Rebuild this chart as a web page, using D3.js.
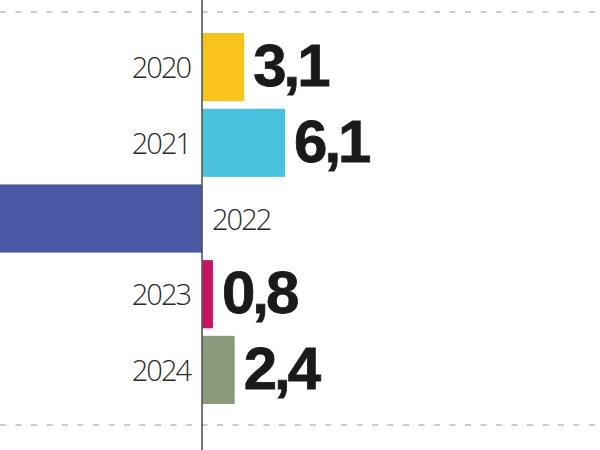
<!DOCTYPE html>
<html><head><meta charset="utf-8">
<script src="https://cdn.jsdelivr.net/npm/d3@7"></script>
<style>html,body{margin:0;padding:0;background:#fff;overflow:hidden}</style>
</head><body>
<svg id="c" width="600" height="450"></svg>
<script>
const years = ["2020","2021","2022","2023","2024"];
const values = [3.1, 6.1, -16.0, 0.8, 2.4];
const valueLabels = ["3,1","6,1","-16,0","0,8","2,4"];
const colors = ["#F8C41B","#48C2DF","#4A57A5","#C8125F","#8A9A7B"];

const W = 600, H = 450;
const svg = d3.select("#c");
const x = d3.scaleLinear().domain([-14.85, 29.25]).range([0, W]);
const y = d3.scaleBand().domain(years).range([33, 404]).paddingInner(0.1).paddingOuter(0);

// dashed separators
[12, 425].forEach(yy => {
  svg.append("line").attr("x1", 0).attr("x2", W).attr("y1", yy).attr("y2", yy)
    .attr("stroke", "#bcbcbc").attr("stroke-width", 1.5).attr("stroke-dasharray", "6,9.5");
});

// bars
svg.selectAll("rect.bar").data(years).join("rect").attr("class","bar")
  .attr("x", (d,i) => x(Math.min(0, values[i])))
  .attr("width", (d,i) => Math.abs(x(values[i]) - x(0)))
  .attr("y", d => y(d)).attr("height", y.bandwidth())
  .attr("fill", (d,i) => colors[i]);

// zero line
svg.append("line").attr("x1", x(0)).attr("x2", x(0)).attr("y1", 0).attr("y2", H)
  .attr("stroke", "#555").attr("stroke-width", 1.6);

// year labels
svg.selectAll("text.yr").data(years).join("text").attr("class","yr")
  .attr("x", (d,i) => values[i] < 0 ? x(0) + 10 : x(0) - 12)
  .attr("y", d => y(d) + y.bandwidth()/2 + 11)
  .attr("text-anchor", (d,i) => values[i] < 0 ? "start" : "end")
  .attr("font-family", "'Open Sans', sans-serif").attr("font-weight", 300)
  .attr("font-size", 29).attr("letter-spacing", -2).attr("fill", "#2a2a2a")
  .text(d => d);

// value labels (only those that fall inside the visible area, as in the cropped reference)
const visible = years.map((d,i) => i).filter(i => values[i] >= 0);
svg.selectAll("text.val").data(visible).join("text").attr("class","val")
  .attr("x", i => x(values[i]) + 9)
  .attr("y", i => y(years[i]) + y.bandwidth()/2 + 19)
  .attr("text-anchor", "start")
  .attr("font-family", "'Liberation Sans', Arial, sans-serif").attr("font-weight", 700)
  .attr("font-size", 60).attr("letter-spacing", -3).attr("fill", "#1b1a1a")
  .attr("stroke", "#1b1a1a").attr("stroke-width", 0.8)
  .text(i => valueLabels[i]);
</script>
</body></html>
